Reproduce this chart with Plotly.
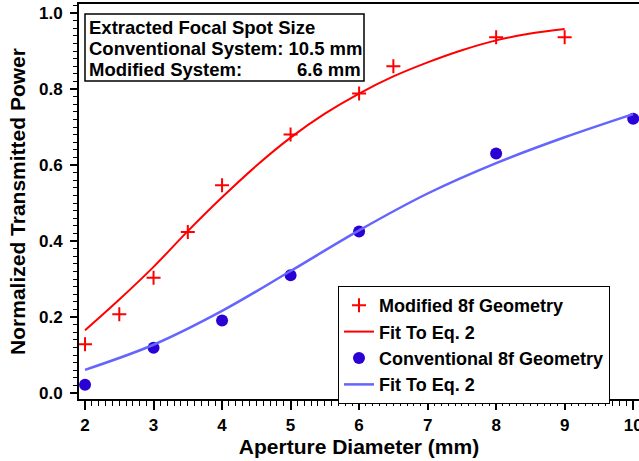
import plotly.graph_objects as go

# Measured data
mod_x = [2, 2.5, 3, 3.5, 4, 5, 6, 6.5, 8, 9]
mod_y = [0.128, 0.207, 0.303, 0.424, 0.547, 0.680, 0.788, 0.860, 0.936, 0.936]
conv_x = [2, 3, 4, 5, 6, 8, 10]
conv_y = [0.022, 0.119, 0.191, 0.310, 0.425, 0.630, 0.722]

# Fit curves
modfit_x = [2, 2.5, 3, 3.5, 4, 4.5, 5, 5.5, 6, 6.5, 7, 7.5, 8, 8.5, 9]
modfit_y = [0.165, 0.246, 0.332, 0.426, 0.515, 0.598, 0.672, 0.735, 0.788, 0.833, 0.870, 0.902, 0.928, 0.946, 0.958]
convfit_x = [2, 3, 4, 5, 6, 7, 8, 9, 10]
convfit_y = [0.061, 0.127, 0.216, 0.321, 0.428, 0.525, 0.605, 0.673, 0.734]

x_ticks = [2, 3, 4, 5, 6, 7, 8, 9, 10]
y_ticks = [0.0, 0.2, 0.4, 0.6, 0.8, 1.0]

FONT = "Liberation Sans, Arial, sans-serif"
RED = "#ff0000"
BLUE_DOT = "#2a00d4"
BLUE_LINE = "#6464ff"

fig = go.Figure()
fig.add_trace(go.Scatter(x=mod_x, y=mod_y, mode="markers", name="Modified 8f Geometry",
                         marker=dict(symbol="cross-thin", size=10, line=dict(color=RED, width=2), color=RED)))
fig.add_trace(go.Scatter(x=modfit_x, y=modfit_y, mode="lines", name="Fit To Eq. 2",
                         line=dict(color=RED, width=2, shape="spline", smoothing=1.0)))
fig.add_trace(go.Scatter(x=conv_x, y=conv_y, mode="markers", name="Conventional 8f Geometry",
                         marker=dict(symbol="circle", size=12, color=BLUE_DOT, line=dict(width=0))))
fig.add_trace(go.Scatter(x=convfit_x, y=convfit_y, mode="lines", name="Fit To Eq. 2",
                         line=dict(color=BLUE_LINE, width=2.5, shape="spline", smoothing=1.0)))

L, R, T, B = 79, 0, 4, 62
W, H = 639, 461
pw, ph = W - L - R, H - T - B

def px(xp):
    return (xp - L) / pw

def py(yp):
    return (H - B - yp) / ph

axis_common = dict(showgrid=False, zeroline=False, showline=True, linecolor="black", linewidth=2,
                   mirror=True, ticks="outside", tickcolor="black", tickwidth=2,
                   ticklabeloverflow="allow",
                   tickfont=dict(family=FONT, size=17, color="black", weight="bold"))

fig.update_xaxes(range=[1.912, 10.085], tickvals=x_ticks, ticktext=[str(v) for v in x_ticks], ticklen=9,
                 minor=dict(dtick=0.1, ticks="outside", ticklen=5, tickcolor="black", tickwidth=1),
                 title=dict(text="Aperture Diameter (mm)", font=dict(family=FONT, size=21, color="black", weight="bold"), standoff=2),
                 ticklabelstandoff=1, automargin="bottom",
                 **axis_common)
fig.update_yaxes(range=[-0.0158, 1.0237], tickvals=y_ticks, ticktext=["%.1f" % v for v in y_ticks], ticklen=7,
                 minor=dict(dtick=0.02, ticks="outside", ticklen=4, tickcolor="black", tickwidth=1),
                 title=dict(text="Normalized Transmitted Power", font=dict(family=FONT, size=21, color="black", weight="bold"), standoff=8),
                 ticklabelstandoff=4, automargin="left",
                 **axis_common)

# Info box
fig.add_shape(type="rect", xref="paper", yref="paper", x0=px(85), x1=px(364), y0=py(81), y1=py(14),
              line=dict(color="black", width=1.5), fillcolor="white", layer="above")
box_font = dict(family=FONT, size=18.5, color="black", weight="bold")
fig.add_annotation(xref="paper", yref="paper", x=px(87), y=py(28), xanchor="left", yanchor="middle",
                   text="Extracted Focal Spot Size", showarrow=False, font=box_font)
fig.add_annotation(xref="paper", yref="paper", x=px(87), y=py(48), xanchor="left", yanchor="middle",
                   text="Conventional System: 10.5 mm", showarrow=False, font=box_font)
fig.add_annotation(xref="paper", yref="paper", x=px(87), y=py(69), xanchor="left", yanchor="middle",
                   text="Modified System:", showarrow=False, font=box_font)
fig.add_annotation(xref="paper", yref="paper", x=px(363), y=py(69), xanchor="right", yanchor="middle",
                   text="6.6 mm", showarrow=False, font=box_font)

fig.update_layout(
    width=W, height=H,
    margin=dict(l=L, r=R, t=T, b=B, pad=0),
    paper_bgcolor="white", plot_bgcolor="white",
    font=dict(family=FONT, color="black", weight="bold"),
    legend=dict(x=px(338), y=py(286), xanchor="left", yanchor="top",
                bordercolor="black", borderwidth=1, bgcolor="white",
                font=dict(family=FONT, size=18, color="black", weight="bold"),
                tracegroupgap=0, itemwidth=30),
    showlegend=True,
)

fig.write_html("out.html", config={"displayModeBar": False},
               post_script="document.body.style.margin='0';document.body.style.padding='0';")
